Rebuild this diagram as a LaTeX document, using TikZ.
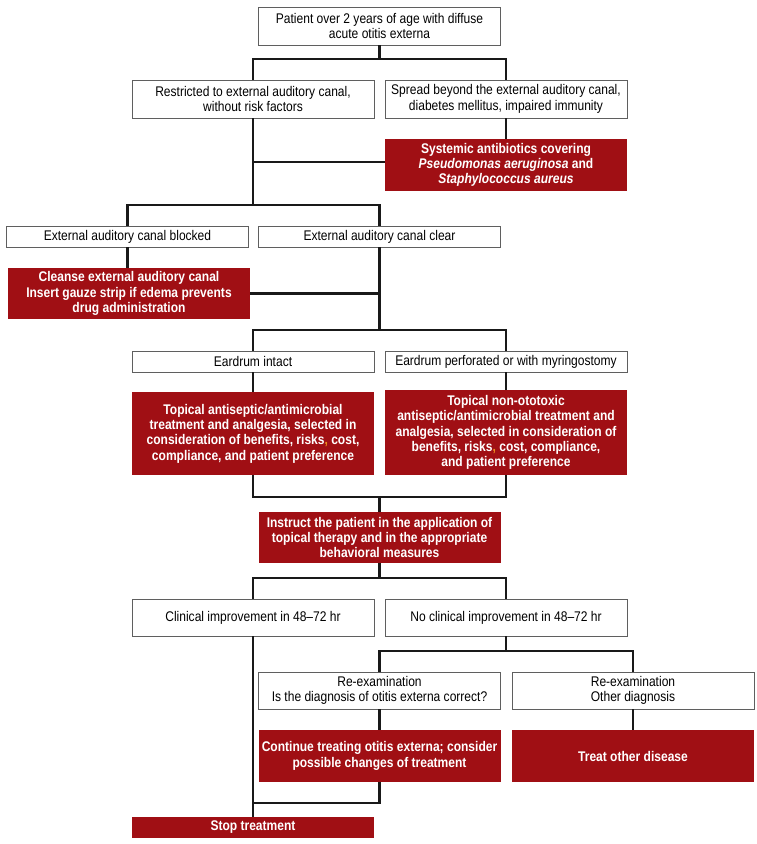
\documentclass[tikz,border=0pt]{standalone}
\usepackage{fontspec}
\setmainfont{Liberation Sans}[FakeStretch=0.86]
\usepackage{xcolor}
\usetikzlibrary{positioning}
\definecolor{therapy}{RGB}{160,15,20}
\definecolor{frame}{RGB}{95,95,95}
\definecolor{stray}{RGB}{235,140,30}

\begin{document}
\begin{tikzpicture}[
    x=1pt, y=-1pt,
    box/.style={rectangle, draw=frame, line width=0.8pt, fill=white, inner sep=0pt, minimum width=242pt, align=center, font=\fontsize{14}{15.3}\selectfont},
    redbox/.style={rectangle, fill=therapy, text=white, inner sep=0pt, minimum width=242pt, align=center, font=\fontsize{14}{15.3}\selectfont\bfseries},
    link/.style={draw=black!90, line width=2.7pt}
]
    \useasboundingbox (0,0) rectangle (756,844);

    % Findings
    \node[box, minimum height=38pt] (patient) at (379.5,26) {Patient over 2 years of age with diffuse\\acute otitis externa};
    \node[box, minimum height=38pt] (restricted) at (253,99) {Restricted to external auditory canal,\\without risk factors};
    \node[box, minimum height=38pt] (spread) at (506,99) {Spread beyond the external auditory canal,\\diabetes mellitus, impaired immunity};
    \node[box, minimum height=21pt] (blocked) at (127.5,236.5) {External auditory canal blocked};
    \node[box, minimum height=21pt] (clear) at (379.5,236.5) {External auditory canal clear};
    \node[box, minimum height=21pt] (intact) at (253,361.5) {Eardrum intact};
    \node[box, minimum height=21pt] (perforated) at (506,361.5) {Eardrum perforated or with myringostomy};
    \node[box, minimum height=37pt] (improved) at (253,617.5) {Clinical improvement in 48--72 hr};
    \node[box, minimum height=37pt] (notimproved) at (506,617.5) {No clinical improvement in 48--72 hr};
    \node[box, minimum height=37pt] (reexamine) at (379.5,690.5) {Re-examination\\Is the diagnosis of otitis externa correct?};
    \node[box, minimum height=37pt] (otherdx) at (633,690.5) {Re-examination\\Other diagnosis};

    % Treatments
    \node[redbox, minimum height=52pt] (systemic) at (506,165) {Systemic antibiotics covering\\\textit{Pseudomonas aeruginosa} and\\\textit{Staphylococcus aureus}};
    \node[redbox, minimum height=51pt] (cleanse) at (129,293.5) {Cleanse external auditory canal\\Insert gauze strip if edema prevents\\drug administration};
    \node[redbox, minimum height=83pt] (topical) at (253,433.5) {Topical antiseptic/antimicrobial\\treatment and analgesia, selected in\\consideration of benefits, risks{\color{stray},} cost,\\compliance, and patient preference};
    \node[redbox, minimum height=85pt] (nonototoxic) at (506,432.5) {Topical non-ototoxic\\antiseptic/antimicrobial treatment and\\analgesia, selected in consideration of\\benefits, risks{\color{stray},} cost, compliance,\\and patient preference};
    \node[redbox, minimum height=51pt] (instruct) at (379.5,537.5) {Instruct the patient in the application of\\topical therapy and in the appropriate\\behavioral measures};
    \node[redbox, minimum height=52pt] (continue) at (379.5,756) {Continue treating otitis externa; consider\\possible changes of treatment};
    \node[redbox, minimum height=52pt] (treatother) at (633,756) {Treat other disease};
    \node[redbox, minimum height=21pt] (stop) at (253,827.5) {Stop treatment};

    % Junctions
    \coordinate (j1) at (379.5,59);
    \coordinate (j2) at (253,205);
    \coordinate (j3) at (379.5,330);
    \coordinate (j4) at (379.5,497);
    \coordinate (j5) at (379.5,578);
    \coordinate (j6) at (506,651);
    \coordinate (j7) at (253,803);

    % Connectors
    \draw[link] (patient) -- (j1);
    \draw[link] (restricted.north) |- (j1) -| (spread.north);
    \draw[link] (spread) -- (systemic);
    \draw[link] ([yshift=3pt]systemic.west) -- ([yshift=3pt]systemic.west -| restricted.south);
    \draw[link] (restricted.south) -- (j2);
    \draw[link] (blocked.north) |- (j2) -| (clear.north);
    \draw[link] (blocked.south) -- (blocked.south |- cleanse.north);
    \draw[link] (clear.south) -- (j3);
    \draw[link] (cleanse.east) -- (cleanse.east -| clear.south);
    \draw[link] (intact.north) |- (j3) -| (perforated.north);
    \draw[link] (intact) -- (topical);
    \draw[link] (perforated) -- (nonototoxic);
    \draw[link] (topical.south) |- (j4) -| (nonototoxic.south);
    \draw[link] (j4) -- (instruct);
    \draw[link] (instruct) -- (j5);
    \draw[link] (improved.north) |- (j5) -| (notimproved.north);
    \draw[link] (notimproved) -- (j6);
    \draw[link] (reexamine.north) |- (j6) -| (otherdx.north);
    \draw[link] (reexamine) -- (continue);
    \draw[link] (otherdx) -- (treatother);
    \draw[link] (continue.south) |- (j7);
    \draw[link] (improved) -- (stop);
\end{tikzpicture}
\end{document}
